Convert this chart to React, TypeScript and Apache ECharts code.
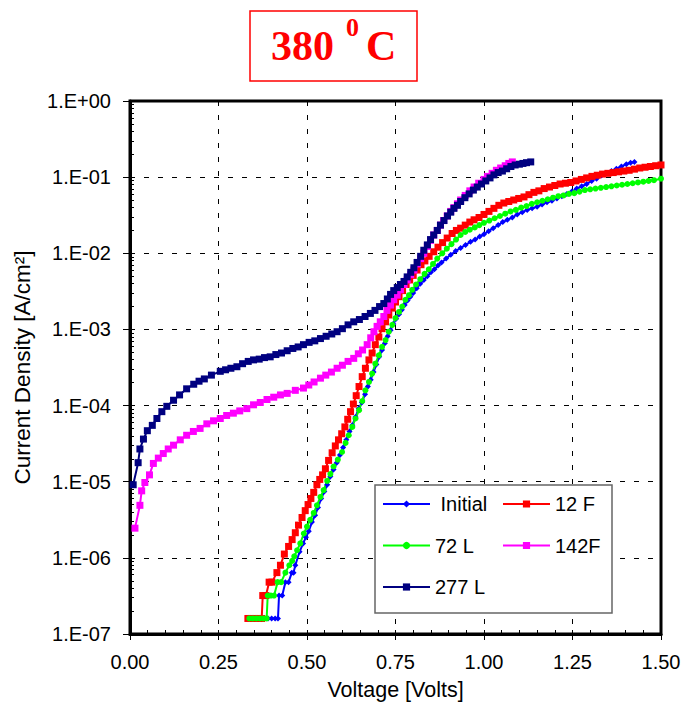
import React, { useEffect, useRef } from "react";
import * as echarts from "echarts";

// ---- data (voltage [V], log10 of current density [A/cm2]) ----
const seriesNames = ["Initial", "12 F", "72 L", "142F", "277 L"];
const xTickLabels = ["0.00", "0.25", "0.50", "0.75", "1.00", "1.25", "1.50"];
const yTickLabels = ["1.E-07", "1.E-06", "1.E-05", "1.E-04", "1.E-03", "1.E-02", "1.E-01", "1.E+00"];

const initialPts: [number, number][] = [
  [0.38, -6.796], [0.39, -6.796], [0.4, -6.796], [0.41, -6.796], [0.418, -6.796],
  [0.421, -6.495], [0.43, -6.495], [0.439, -6.319], [0.448, -6.319], [0.457, -6.194], [0.462, -6.194],
  [0.467, -6.097], [0.479, -5.92], [0.489, -5.81], [0.497, -5.73], [0.505, -5.65], [0.514, -5.53],
  [0.523, -5.44], [0.531, -5.34], [0.54, -5.22], [0.549, -5.13], [0.557, -5.04], [0.566, -4.93],
  [0.575, -4.84], [0.584, -4.75], [0.593, -4.65], [0.602, -4.55], [0.611, -4.45], [0.62, -4.34],
  [0.628, -4.26], [0.637, -4.15], [0.646, -4.04], [0.655, -3.96], [0.664, -3.85], [0.672, -3.75],
  [0.68, -3.66], [0.688, -3.56], [0.696, -3.46], [0.704, -3.36], [0.712, -3.27], [0.72, -3.18],
  [0.728, -3.09], [0.736, -3.01], [0.744, -2.93], [0.752, -2.86], [0.76, -2.8], [0.768, -2.74],
  [0.776, -2.68], [0.784, -2.62], [0.792, -2.57], [0.8, -2.52], [0.81, -2.46], [0.82, -2.4],
  [0.83, -2.35], [0.84, -2.3], [0.85, -2.25], [0.86, -2.21], [0.87, -2.16], [0.88, -2.12],
  [0.893, -2.07], [0.906, -2.02], [0.92, -1.97], [0.934, -1.93], [0.948, -1.89], [0.962, -1.85],
  [0.975, -1.82], [0.988, -1.78], [1.0, -1.75], [1.013, -1.71], [1.026, -1.67], [1.04, -1.63],
  [1.053, -1.59], [1.066, -1.56], [1.08, -1.53], [1.094, -1.49], [1.108, -1.46], [1.122, -1.43],
  [1.136, -1.41], [1.15, -1.39], [1.164, -1.36], [1.178, -1.33], [1.192, -1.31], [1.206, -1.28],
  [1.22, -1.25], [1.234, -1.22], [1.248, -1.19], [1.262, -1.15], [1.276, -1.12], [1.29, -1.09],
  [1.304, -1.05], [1.318, -1.02], [1.332, -0.98], [1.346, -0.95], [1.36, -0.92], [1.374, -0.89],
  [1.388, -0.86], [1.402, -0.83], [1.414, -0.81], [1.425, -0.8],
];

const f12Pts: [number, number][] = [
  [0.333, -6.796], [0.343, -6.796], [0.353, -6.796], [0.363, -6.796], [0.372, -6.796],
  [0.375, -6.495], [0.384, -6.495], [0.393, -6.319], [0.401, -6.319], [0.415, -6.194], [0.425, -6.097],
  [0.436, -5.95], [0.448, -5.85], [0.458, -5.76], [0.467, -5.67], [0.476, -5.57], [0.486, -5.47],
  [0.495, -5.38], [0.503, -5.3], [0.511, -5.22], [0.519, -5.14], [0.528, -5.04], [0.536, -4.97],
  [0.544, -4.91], [0.552, -4.83], [0.561, -4.72], [0.571, -4.62], [0.58, -4.53], [0.589, -4.45],
  [0.598, -4.37], [0.607, -4.28], [0.615, -4.18], [0.623, -4.08], [0.631, -3.98], [0.639, -3.87],
  [0.647, -3.75], [0.656, -3.62], [0.665, -3.51], [0.675, -3.4], [0.684, -3.31], [0.693, -3.2],
  [0.703, -3.1], [0.712, -2.99], [0.722, -2.9], [0.731, -2.81], [0.741, -2.72], [0.75, -2.64],
  [0.76, -2.57], [0.77, -2.49], [0.78, -2.41], [0.79, -2.35], [0.8, -2.29], [0.811, -2.22],
  [0.822, -2.15], [0.833, -2.1], [0.845, -2.04], [0.858, -1.98], [0.87, -1.92], [0.883, -1.86],
  [0.896, -1.8], [0.91, -1.74], [0.922, -1.7], [0.934, -1.67], [0.947, -1.63], [0.96, -1.59],
  [0.972, -1.56], [0.986, -1.53], [1.0, -1.49], [1.014, -1.45], [1.028, -1.41], [1.042, -1.37],
  [1.056, -1.34], [1.07, -1.32], [1.084, -1.3], [1.098, -1.28], [1.113, -1.26], [1.127, -1.23],
  [1.141, -1.2], [1.155, -1.18], [1.17, -1.15], [1.185, -1.13], [1.2, -1.11], [1.215, -1.09],
  [1.23, -1.08], [1.245, -1.07], [1.26, -1.05], [1.275, -1.03], [1.29, -1.01], [1.305, -0.99],
  [1.32, -0.975], [1.335, -0.96], [1.35, -0.95], [1.365, -0.94], [1.38, -0.93], [1.395, -0.92],
  [1.41, -0.91], [1.425, -0.895], [1.44, -0.88], [1.455, -0.87], [1.47, -0.86], [1.485, -0.85],
  [1.5, -0.84],
];

const l72Pts: [number, number][] = [
  [0.337, -6.796], [0.347, -6.796], [0.357, -6.796], [0.367, -6.796], [0.377, -6.796], [0.386, -6.796],
  [0.389, -6.495], [0.398, -6.495], [0.407, -6.495], [0.417, -6.319], [0.427, -6.319], [0.439, -6.194],
  [0.45, -6.097], [0.458, -6.04], [0.464, -5.98], [0.472, -5.9], [0.481, -5.81], [0.491, -5.68],
  [0.5, -5.59], [0.509, -5.5], [0.519, -5.41], [0.528, -5.31], [0.538, -5.2], [0.547, -5.11],
  [0.557, -4.99], [0.566, -4.9], [0.575, -4.8], [0.587, -4.71], [0.599, -4.61], [0.609, -4.49],
  [0.618, -4.39], [0.628, -4.28], [0.637, -4.17], [0.647, -4.06], [0.656, -3.94], [0.665, -3.8],
  [0.675, -3.69], [0.684, -3.58], [0.693, -3.45], [0.703, -3.34], [0.712, -3.23], [0.722, -3.14],
  [0.731, -3.03], [0.741, -2.94], [0.75, -2.85], [0.76, -2.77], [0.769, -2.7], [0.778, -2.61],
  [0.788, -2.55], [0.797, -2.48], [0.808, -2.41], [0.82, -2.34], [0.832, -2.27], [0.844, -2.21],
  [0.856, -2.14], [0.868, -2.07], [0.882, -2.0], [0.895, -1.94], [0.908, -1.88], [0.921, -1.82],
  [0.934, -1.76], [0.947, -1.72], [0.96, -1.69], [0.974, -1.66], [0.987, -1.63], [1.0, -1.6],
  [1.015, -1.57], [1.03, -1.54], [1.045, -1.51], [1.06, -1.48], [1.075, -1.45], [1.09, -1.43],
  [1.105, -1.4], [1.12, -1.38], [1.135, -1.35], [1.15, -1.33], [1.165, -1.31], [1.18, -1.29],
  [1.195, -1.27], [1.21, -1.25], [1.225, -1.24], [1.24, -1.22], [1.255, -1.21], [1.27, -1.19],
  [1.285, -1.17], [1.3, -1.16], [1.315, -1.15], [1.33, -1.14], [1.345, -1.13], [1.36, -1.12],
  [1.375, -1.11], [1.39, -1.1], [1.405, -1.09], [1.42, -1.08], [1.435, -1.07], [1.45, -1.06],
  [1.465, -1.05], [1.48, -1.04], [1.5, -1.02],
];

const f142Pts: [number, number][] = [
  [0.014, -5.61], [0.028, -5.31], [0.033, -5.12], [0.042, -5.01], [0.055, -4.91], [0.066, -4.76],
  [0.08, -4.69], [0.094, -4.63], [0.108, -4.57], [0.123, -4.52], [0.142, -4.45], [0.16, -4.39],
  [0.179, -4.34], [0.198, -4.3], [0.217, -4.24], [0.236, -4.2], [0.255, -4.17], [0.273, -4.13],
  [0.292, -4.1], [0.31, -4.07], [0.33, -4.04], [0.349, -3.99], [0.368, -3.96], [0.387, -3.92],
  [0.406, -3.89], [0.425, -3.86], [0.444, -3.84], [0.467, -3.8], [0.49, -3.77], [0.505, -3.73],
  [0.52, -3.69], [0.538, -3.64], [0.553, -3.6], [0.569, -3.56], [0.585, -3.51], [0.6, -3.47],
  [0.616, -3.42], [0.632, -3.38], [0.645, -3.32], [0.657, -3.27], [0.67, -3.2], [0.68, -3.11],
  [0.689, -3.03], [0.698, -2.96], [0.707, -2.9], [0.717, -2.83], [0.726, -2.75], [0.736, -2.68],
  [0.745, -2.61], [0.755, -2.55], [0.764, -2.48], [0.774, -2.41], [0.783, -2.35], [0.793, -2.28],
  [0.802, -2.22], [0.812, -2.14], [0.821, -2.07], [0.83, -2.0], [0.84, -1.91], [0.849, -1.83],
  [0.858, -1.76], [0.868, -1.7], [0.877, -1.63], [0.886, -1.57], [0.896, -1.51], [0.906, -1.45],
  [0.915, -1.4], [0.925, -1.35], [0.934, -1.3], [0.947, -1.24], [0.96, -1.18], [0.972, -1.13],
  [0.985, -1.08], [1.0, -1.03], [1.01, -0.99], [1.023, -0.95], [1.035, -0.91], [1.047, -0.88],
  [1.06, -0.85], [1.07, -0.82], [1.08, -0.8],
];

const l277Pts: [number, number][] = [
  [0.009, -5.04], [0.023, -4.75], [0.028, -4.57], [0.038, -4.44], [0.049, -4.33], [0.063, -4.26],
  [0.076, -4.17], [0.09, -4.08], [0.104, -4.01], [0.123, -3.93], [0.14, -3.86], [0.16, -3.78],
  [0.18, -3.72], [0.195, -3.68], [0.21, -3.65], [0.23, -3.6], [0.255, -3.55], [0.27, -3.53],
  [0.285, -3.51], [0.302, -3.49], [0.318, -3.45], [0.334, -3.42], [0.349, -3.4], [0.365, -3.39],
  [0.38, -3.37], [0.396, -3.36], [0.412, -3.33], [0.428, -3.31], [0.444, -3.28], [0.46, -3.25],
  [0.475, -3.23], [0.49, -3.2], [0.506, -3.17], [0.522, -3.15], [0.538, -3.12], [0.554, -3.09],
  [0.57, -3.06], [0.585, -3.03], [0.6, -2.99], [0.616, -2.94], [0.632, -2.9], [0.648, -2.87],
  [0.664, -2.83], [0.679, -2.79], [0.692, -2.75], [0.705, -2.7], [0.717, -2.66], [0.727, -2.6],
  [0.736, -2.54], [0.745, -2.49], [0.755, -2.45], [0.764, -2.41], [0.774, -2.37], [0.783, -2.31],
  [0.793, -2.25], [0.802, -2.19], [0.811, -2.12], [0.821, -2.04], [0.83, -1.96], [0.84, -1.89],
  [0.849, -1.82], [0.858, -1.76], [0.868, -1.7], [0.877, -1.63], [0.887, -1.57], [0.897, -1.51],
  [0.906, -1.46], [0.915, -1.41], [0.925, -1.37], [0.934, -1.32], [0.946, -1.27], [0.958, -1.22],
  [0.97, -1.17], [0.981, -1.13], [0.993, -1.09], [1.005, -1.05], [1.017, -1.01], [1.028, -0.97],
  [1.04, -0.94], [1.052, -0.92], [1.064, -0.89], [1.076, -0.86], [1.088, -0.84], [1.1, -0.83],
  [1.11, -0.82], [1.12, -0.81], [1.132, -0.8],
];

// ---- styles ----
const FONT = "Liberation Sans";
const colors = ["#0000ff", "#ff0000", "#00ff00", "#ff00ff", "#000080"];
const symbols = ["diamond", "rect", "circle", "rect", "rect"];
const symbolSizes = [6, 7, 6, 7, 7];
const allPts = [initialPts, f12Pts, l72Pts, f142Pts, l277Pts];

// minor tick positions (log decade subdivisions)
const yMinorTicks: number[] = [];
for (let e = -7; e < 0; e++) {
  for (let m = 2; m <= 9; m++) yMinorTicks.push(m * Math.pow(10, e));
}

function buildOption() {
  const series = seriesNames.map((name, i) => ({
    name,
    type: "line",
    data: allPts[i].map(([v, e]) => [v, Math.pow(10, e)]),
    symbol: symbols[i],
    symbolSize: symbolSizes[i],
    showSymbol: true,
    clip: false,
    lineStyle: { color: colors[i], width: 2 },
    itemStyle: { color: colors[i] },
    emphasis: { disabled: true },
    z: 2,
  }));

  const dashed = { color: "#000", width: 1, type: [5, 9] as number[] };
  const legendCommon = {
    orient: "vertical",
    top: 494,
    itemWidth: 47,
    itemHeight: 9,
    itemGap: 21.5,
    padding: 0,
    selectedMode: false,
    z: 12,
    textStyle: { fontSize: 20, fontFamily: FONT, color: "#000" },
  };

  return {
    animation: false,
    backgroundColor: "#fff",
    grid: {
      left: 130,
      right: 26,
      top: 101,
      bottom: 76,
      show: true,
      borderColor: "#000",
      borderWidth: 3,
      backgroundColor: "transparent",
    },
    xAxis: [
      {
        type: "value",
        min: 0,
        max: 1.5,
        interval: 0.25,
        position: "bottom",
        name: "Voltage [Volts]",
        nameLocation: "middle",
        nameGap: 45,
        nameTextStyle: { fontSize: 21.5, fontFamily: FONT, color: "#000" },
        axisLine: { show: true, lineStyle: { color: "#000", width: 3 } },
        axisTick: { show: true, inside: false, length: 6, lineStyle: { color: "#000", width: 1 } },
        axisLabel: {
          fontSize: 20,
          fontFamily: FONT,
          color: "#000",
          margin: 18,
          formatter: (v: number) => xTickLabels[Math.round(v / 0.25)] ?? "",
        },
        splitLine: { show: true, lineStyle: dashed },
      },
      {
        type: "value",
        min: 0,
        max: 1.5,
        interval: 0.25,
        position: "bottom",
        axisLine: { show: false },
        axisLabel: { show: false },
        splitLine: { show: false },
        axisTick: { show: true, inside: true, length: 4, lineStyle: { color: "#000", width: 1 } },
        minorTick: { show: true, splitNumber: 5, length: 4, lineStyle: { color: "#000", width: 1 } },
      },
      {
        type: "value",
        min: 0,
        max: 1.5,
        interval: 0.25,
        position: "top",
        axisLine: { show: false },
        axisLabel: { show: false },
        splitLine: { show: false },
        axisTick: { show: true, inside: true, length: 5, lineStyle: { color: "#000", width: 1 } },
      },
    ],
    yAxis: [
      {
        type: "log",
        logBase: 10,
        min: 1e-7,
        max: 1,
        interval: 1,
        position: "left",
        name: "Current Density [A/cm²]",
        nameLocation: "middle",
        nameGap: 96,
        nameTextStyle: { fontSize: 22.5, fontFamily: FONT, color: "#000" },
        axisLine: { show: true, lineStyle: { color: "#000", width: 3 } },
        axisTick: { show: true, inside: false, length: 7, lineStyle: { color: "#000", width: 1 } },
        axisLabel: {
          fontSize: 20,
          fontFamily: FONT,
          color: "#000",
          margin: 19,
          formatter: (v: number) => yTickLabels[Math.round(Math.log10(v)) + 7] ?? "",
        },
        splitLine: { show: true, lineStyle: dashed },
      },
      {
        type: "log",
        logBase: 10,
        min: 1e-7,
        max: 1,
        position: "left",
        axisLine: { show: false },
        axisLabel: { show: false },
        splitLine: { show: false },
        axisTick: {
          show: true,
          inside: true,
          length: 4,
          customValues: yMinorTicks,
          lineStyle: { color: "#000", width: 1 },
        },
      },
    ],
    legend: [
      {
        ...legendCommon,
        left: 382,
        data: ["Initial", "72 L", "277 L"],
        formatter: (n: string) => (n === "Initial" ? "\u00a0" + n : n),
      },
      { ...legendCommon, left: 502, data: ["12 F", "142F"] },
    ],
    graphic: [
      {
        type: "rect",
        z: 10,
        shape: { x: 375, y: 485, width: 237, height: 128 },
        style: { fill: "#fff", stroke: "#666", lineWidth: 1.5 },
      },
      {
        type: "rect",
        z: 10,
        shape: { x: 250, y: 11, width: 167, height: 70 },
        style: { fill: "#fff", stroke: "#ff0000", lineWidth: 1.5 },
      },
      {
        type: "text",
        z: 11,
        x: 271,
        y: 46,
        style: {
          text: "380",
          font: 'bold 42px "Liberation Serif"',
          fill: "#ff0000",
          textVerticalAlign: "middle",
        },
      },
      {
        type: "text",
        z: 11,
        x: 346,
        y: 27,
        style: {
          text: "0",
          font: 'bold 26px "Liberation Serif"',
          fill: "#ff0000",
          textVerticalAlign: "middle",
        },
      },
      {
        type: "text",
        z: 11,
        x: 366,
        y: 46,
        style: {
          text: "C",
          font: 'bold 42px "Liberation Serif"',
          fill: "#ff0000",
          textVerticalAlign: "middle",
        },
      },
    ],
    series,
  };
}

export default function App() {
  const ref = useRef<HTMLDivElement>(null);
  useEffect(() => {
    document.body.style.margin = "0";
    if (!ref.current) return;
    const chart = echarts.init(ref.current, null, { renderer: "svg" });
    chart.setOption(buildOption() as any);
    return () => chart.dispose();
  }, []);
  return (
    <div
      ref={ref}
      style={{ position: "absolute", left: 0, top: 0, width: 687, height: 710, background: "#fff" }}
    />
  );
}
